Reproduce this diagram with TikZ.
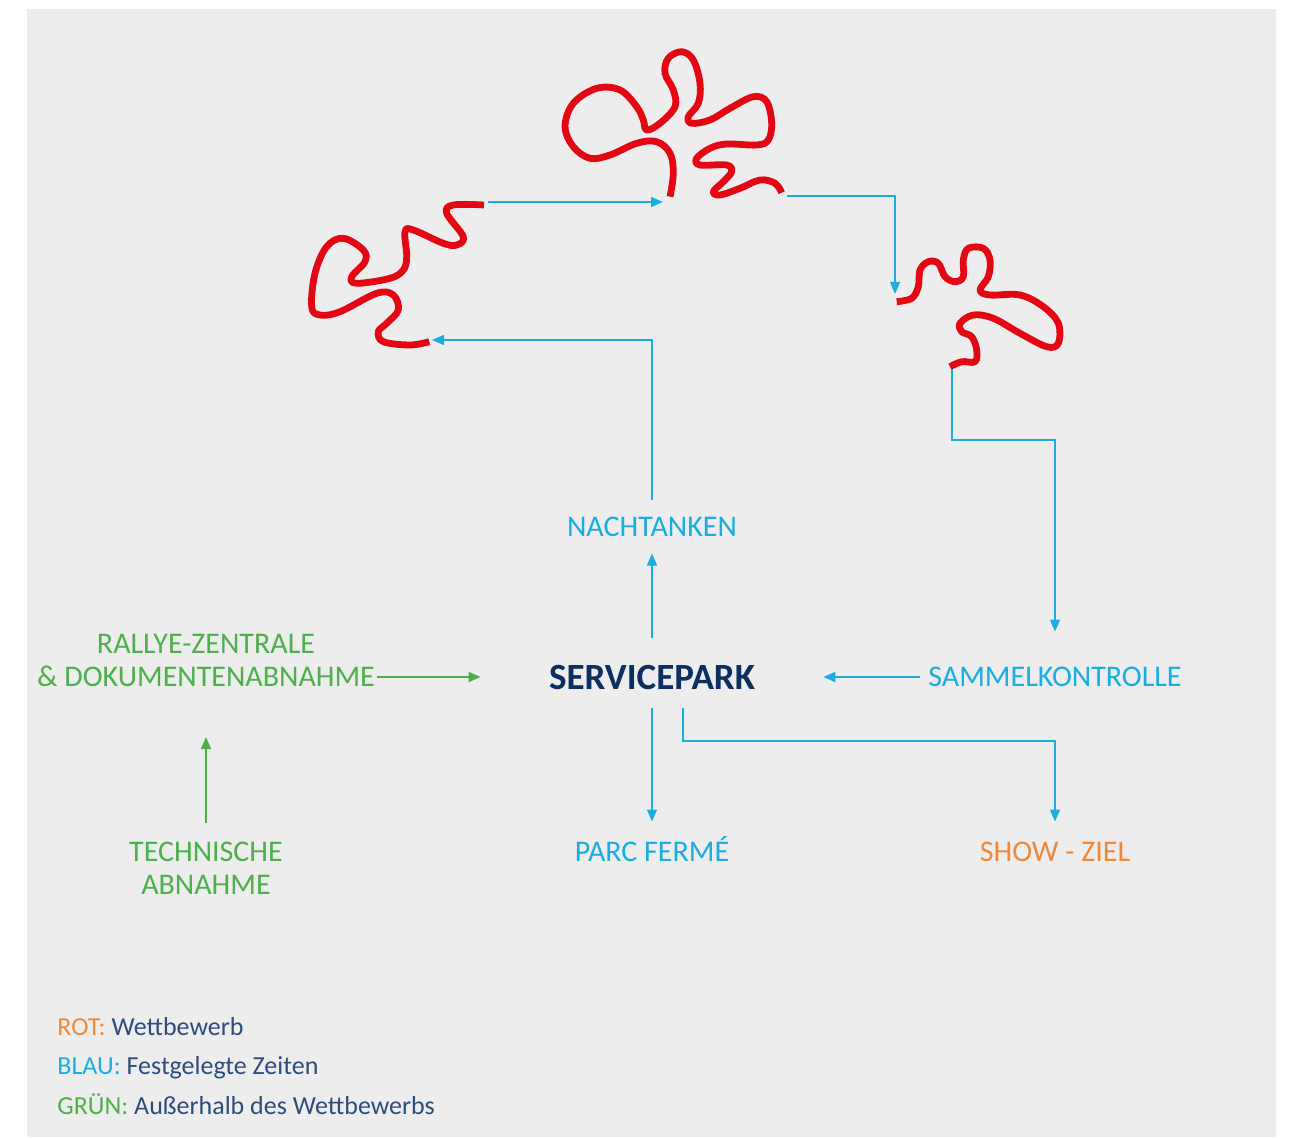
\documentclass[tikz,border=0pt]{standalone}
\usepackage{fontspec}
\setmainfont{Carlito}
\usetikzlibrary{arrows.meta,positioning}

\definecolor{bggrey}{HTML}{EDEDED}
\definecolor{stagered}{HTML}{E30613}
\definecolor{timeblue}{HTML}{1AADE0}
\definecolor{freegreen}{HTML}{4DB04A}
\definecolor{showorange}{HTML}{F0883A}
\definecolor{parknavy}{HTML}{0B2F5E}
\definecolor{legendnavy}{HTML}{2E4C7C}

\begin{document}
\begin{tikzpicture}[
    x = 0.5pt,
    y = -0.5pt,
    >={Triangle[length=6pt,width=5pt]},
    station/.style = {
      inner sep = 0pt,
      text height = 9.6pt,
      text depth = 0pt,
      font = \fontsize{15}{18}\selectfont
    },
    timed text/.style = {station, text = timeblue},
    free text/.style = {station, text = freegreen},
    show text/.style = {station, text = showorange},
    park/.style = {
      inner sep = 0pt,
      text height = 12pt,
      text depth = 0pt,
      text = parknavy,
      font = \fontsize{18.5}{22}\selectfont\bfseries
    },
    legend/.style = {
      anchor = west,
      inner sep = 0pt,
      text height = 8.4pt,
      text depth = 0pt,
      text = legendnavy,
      font = \fontsize{13}{16}\selectfont
    },
    timed/.style = {->, draw = timeblue, line width = 0.75pt},
    free/.style = {->, draw = freegreen, line width = 0.75pt},
    stage/.style = {draw = stagered, line width = 3.4pt, line join = round}
  ]
  \useasboundingbox (0,0) rectangle (1291,1139);
  \fill[bggrey] (27,9) rectangle (1276,1137);

  % stages
  \draw[stage] plot[smooth, tension=0.6] coordinates {
    (484,205) (453.3,205) (446.7,213.3) (463.3,236.7) (456.7,245)
    (443.3,243.3) (413.3,230) (405,231.7) (406.7,256.7) (403.3,270)
    (390,278.3) (356.7,283.3) (351.7,276.7) (365,261.7) (363.3,250)
    (343.3,238.3) (326.7,246.7) (315,273.3) (311.7,306.7) (320,315)
    (340,311.7) (376.7,293.3) (393.3,295) (398.3,310) (386.7,323.3)
    (378.3,331.7) (383.3,341.7) (410,345) (429.3,341.7)};
  \draw[stage] plot[smooth, tension=0.6] coordinates {
    (670,196.7) (673.3,173.3) (670,153.3) (656.7,141.7) (636.7,143.3)
    (610,155) (590,158.3) (573.3,146.7) (565,126.7) (573.3,103.3)
    (596.7,88.3) (620,90) (636.7,106.7) (643.3,120) (646.7,130)
    (660,123.3) (675,106.7) (673.3,90) (665,73.3) (668.3,58.3)
    (681.7,51.7) (693.3,60) (700,83.3) (698.3,103.3) (688.3,116.7)
    (691.7,123.3) (710,120) (730,108.3) (753.3,96.7) (766.7,101.7)
    (771.7,123.3) (768.3,140) (756.7,145) (726.7,144) (710,148.3)
    (696.7,158.3) (700,165) (726.7,165) (731.7,171.7) (723.3,181.7)
    (713.3,191.7) (720,195) (740,188.3) (760,180) (775,183.3)
    (781.7,192.7)};
  \draw[stage] plot[smooth, tension=0.6] coordinates {
    (896.7,301.7) (911.7,298.3) (918.3,286.7) (920,270) (928.3,261.7)
    (938.3,263.3) (945,276.7) (955,281.7) (963.3,276.7) (963.3,260)
    (968.3,248.3) (983.3,248.3) (990,260) (988.3,276.7) (980,290)
    (990,295) (1020,295) (1043.3,306.7) (1058.3,323.3) (1058.3,343.3)
    (1046.7,346.7) (1020,333.3) (993.3,318.3) (973.3,315) (960,323.3)
    (961.7,331.7) (971.7,336.7) (976.7,350) (975,361.7) (961.7,361.7)
    (950,366.7)};

  \coordinate (s1in) at (432,340);
  \coordinate (s1out) at (488,202);
  \coordinate (s2in) at (663,202);
  \coordinate (s2out) at (787,196);
  \coordinate (s3in) at (895,294);
  \coordinate (s3out) at (952,369);
  \coordinate (k3) at (1055,440);
  \coordinate (k8) at (1055,741);

  \node[park] (srv) at (652,677) {SERVICEPARK};
  \node[timed text] (nacht) at (652,527) {NACHTANKEN};
  \node[timed text] (samm) at (1055,677) {SAMMELKONTROLLE};
  \node[timed text] (parc) at (652,852) {PARC FERMÉ};
  \node[show text] (show) at (1055,852) {SHOW - ZIEL};
  \node[free text] (dok) at (206,677) {\&~DOKUMENTENABNAHME};
  \node[free text, above=6.5pt of dok] (rallye) {RALLYE-ZENTRALE};
  \node[free text] (tech) at (206,852) {TECHNISCHE};
  \node[free text, below=6.5pt of tech] (abn) {ABNAHME};

  \draw[timed, shorten <=13.5pt, shorten >=8.25pt] (srv.north) -- (nacht.south);
  \draw[timed, shorten <=8.75pt] (nacht.north) |- (s1in);
  \draw[timed] (s1out) -- (s2in);
  \draw[timed] (s2out) -| (s3in);
  \draw[timed, shorten >=17.75pt] (s3out) |- (k3) -- (samm.north);
  \draw[timed, shorten <=4pt, shorten >=34pt] (samm.west) -- (srv.east);
  \draw[timed, shorten <=9.5pt, shorten >=10.25pt] (srv.south) -- (parc.north);
  \draw[timed, shorten <=9.5pt, shorten >=10.25pt] ([xshift=15.5pt]srv.south) |- (k8) -- (show.north);
  \draw[free, shorten <=1pt, shorten >=34pt] (dok.east) -- (srv.west);
  \draw[free, shorten <=9.75pt, shorten >=25pt] (tech.north) -- (dok.south);

  \node[legend] (rot) at (57,1027) {\textcolor{showorange}{ROT:} Wettbewerb};
  \node[legend] (blau) at (57,1066) {\textcolor{timeblue}{BLAU:} Festgelegte Zeiten};
  \node[legend] (gruen) at (57,1106) {\textcolor{freegreen}{GRÜN:} Außerhalb des Wettbewerbs};

\end{tikzpicture}
\end{document}
